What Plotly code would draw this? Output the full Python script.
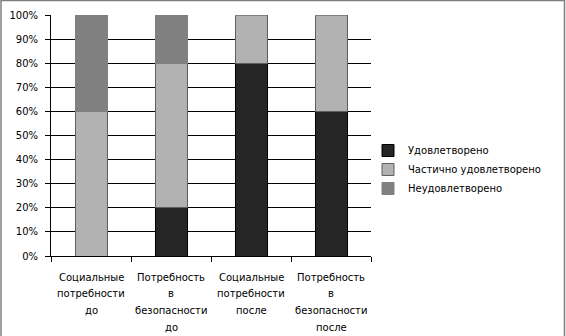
import plotly.graph_objects as go

categories = ["Социальные потребности до", "Потребность в безопасности до",
              "Социальные потребности после", "Потребность в безопасности после"]
label_lines = [["Социальные", "потребности", "до"],
               ["Потребность", "в", "безопасности", "до"],
               ["Социальные", "потребности", "после"],
               ["Потребность", "в", "безопасности", "после"]]
satisfied = [0, 20, 80, 60]
partial = [60, 60, 20, 40]
unsatisfied = [40, 20, 0, 0]
y_ticks = list(range(0, 101, 10))
y_ticktext = [f"{v}%" for v in y_ticks]

W, H = 566, 336
L, R, T, B = 51, 195, 15, 80
FONT = "DejaVu Sans"
FS = 10

fig = go.Figure()
fig.add_trace(go.Bar(x=categories, y=satisfied, name="Удовлетворено",
                     marker=dict(color="#262626", line=dict(color="#000000", width=1))))
fig.add_trace(go.Bar(x=categories, y=partial, name="Частично удовлетворено",
                     marker=dict(color="#b2b2b2", line=dict(color="#5f5f5f", width=1))))
fig.add_trace(go.Bar(x=categories, y=unsatisfied, name="Неудовлетворено",
                     marker=dict(color="#808080", line=dict(color="#808080", width=1))))

annotations = []
for cat, lines in zip(categories, label_lines):
    for i, line in enumerate(lines):
        annotations.append(dict(x=cat, xref="x", y=0, yref="paper", text=line,
                                showarrow=False, yanchor="middle", xanchor="center",
                                yshift=-(21 + 16.8 * i),
                                font=dict(family=FONT, size=FS, color="#000")))

pw = W - L - R
ph = H - T - B
def px2x(px):
    return (px - L) / pw
def py2y(py):
    return (H - B - py) / ph

fig.update_layout(
    width=W, height=H,
    margin=dict(l=L, r=R, t=T, b=B, autoexpand=False),
    paper_bgcolor="white", plot_bgcolor="white",
    barmode="stack", bargap=0.6,
    font=dict(family=FONT, size=FS, color="#000"),
    xaxis=dict(type="category", showticklabels=False, showline=True, linecolor="#000",
               linewidth=1, ticks="outside", tickson="boundaries", ticklen=5,
               tickcolor="#000", showgrid=False, zeroline=False),
    yaxis=dict(range=[0, 100], tickvals=y_ticks, ticktext=y_ticktext, showline=True,
               linecolor="#000", linewidth=1, ticks="outside", ticklen=5, tickcolor="#000",
               showgrid=True, gridcolor="#000", gridwidth=1, zeroline=False,
               ticklabelstandoff=5, tickfont=dict(family=FONT, size=FS)),
    legend=dict(x=px2x(368), y=py2y(136), xanchor="left", yanchor="top",
                traceorder="normal", font=dict(family=FONT, size=FS),
                bgcolor="rgba(0,0,0,0)", itemwidth=30),
    annotations=annotations,
    shapes=[dict(type="rect", xref="paper", yref="paper",
                 x0=px2x(1), x1=px2x(564.5), y0=py2y(337), y1=py2y(0.5),
                 line=dict(color="#808080", width=1.5), layer="below")],
)

fig.write_html("out.html", config={"displayModeBar": False},
               post_script="document.body.style.margin='0';document.body.style.overflow='hidden';window.dispatchEvent(new Event('resize'));")
